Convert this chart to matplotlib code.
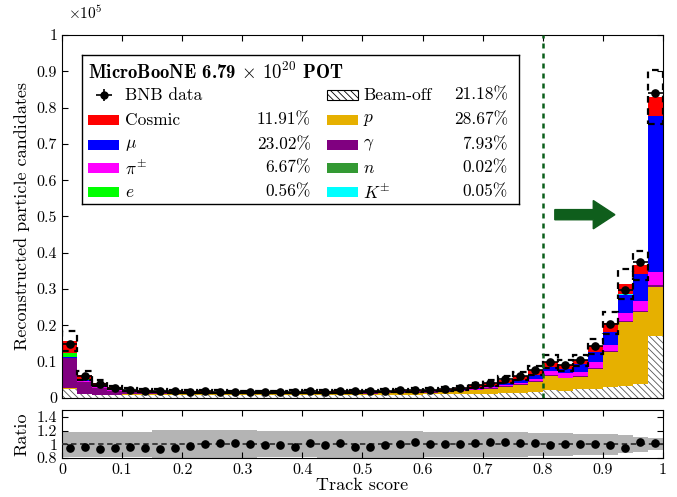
import numpy as np
import matplotlib
matplotlib.use('Agg')
import matplotlib.pyplot as plt
from matplotlib.patches import Rectangle, FancyArrow
from matplotlib.ticker import FuncFormatter, MultipleLocator

plt.rcParams['font.family'] = ['cmr10', 'DejaVu Serif']
plt.rcParams['mathtext.fontset'] = 'cm'
plt.rcParams['axes.formatter.use_mathtext'] = True
plt.rcParams['axes.unicode_minus'] = False
plt.rcParams['hatch.linewidth'] = 0.6

# 40 bins of track score
edges = np.linspace(0, 1, 41)
centers = 0.5 * (edges[:-1] + edges[1:])
bw = 0.025

# contributions, in units of 100 candidates
beam_off = [24, 10, 8, 8, 8.5, 8.5, 8.5, 8.5, 8.5, 8.5,
            8.5, 8.5, 8.5, 8.5, 8.5, 8.6, 8.6, 8.7, 8.8, 8.9,
            9, 9.2, 9.4, 9.6, 9.8, 10, 10.5, 11, 12, 13,
            14.5, 16, 22, 20, 25, 25, 29, 33, 38, 171]
proton = [3, 2, 1.5, 1.5, 1.5, 1.5, 1.5, 1.5, 1.5, 1.5,
          1.5, 1.5, 1.5, 1.5, 1.7, 2, 2, 2.2, 2.4, 2.8,
          3.1, 3.4, 4, 4.6, 5.3, 6, 7.5, 10, 13, 17,
          21, 28, 39, 34, 34, 56, 99, 177, 199, 136]
gamma = [82, 33, 19, 10, 6, 4.5, 4, 3.5, 3, 3,
         2.5, 2.5, 2.5, 2.5, 2.3, 2.2, 2.2, 2.2, 2.1, 2.1,
         2, 2, 2, 1.9, 1.9, 1.9, 2, 2, 2, 2,
         2, 2, 2, 2, 2, 2, 2, 3, 3, 3]
pion = [2, 2, 2, 2, 2, 2, 2, 2, 2, 2,
        2, 1.8, 1.8, 1.8, 1.8, 1.8, 1.8, 1.8, 1.8, 1.8,
        1.8, 1.8, 1.8, 1.9, 1.9, 2, 2.2, 2.8, 3.3, 4,
        5, 6.5, 12, 12, 11, 17, 16, 22, 27, 36]
muon = [2, 2, 1.5, 1.5, 1, 1, 1, 1, 1, 1,
        1, 1, 1, 1, 1, 1.1, 1.1, 1.2, 1.2, 1.3,
        1.3, 1.4, 1.5, 1.6, 1.7, 1.9, 2.2, 3, 4, 5.5,
        7, 10, 11, 12, 21, 27, 37, 50, 74, 430]
electron = [11, 3, 1.5, 1, 0.5, 0.5, 0.5, 0.5, 0, 0,
            0, 0, 0, 0, 0, 0, 0, 0, 0, 0,
            0, 0, 0, 0, 0, 0, 0, 0, 0, 0,
            0, 0, 0, 0, 0, 0, 0, 0, 0, 0]
neutron = [0] * 36 + [0, 0.1, 0.1, 0]
kaon = [0] * 36 + [0.1, 0.2, 0.2, 0.2]
cosmic = [33, 10, 7.5, 5, 3.5, 3, 2.5, 2, 2, 2,
          1.7, 1.7, 1.7, 1.7, 1.7, 1.9, 1.9, 1.9, 1.9, 1.9,
          2, 2, 2.2, 2.3, 2.6, 3.1, 4, 6.2, 6.5, 8.5,
          10.5, 13.5, 14.5, 10.5, 11, 15, 24, 28, 24, 53]

data = [148.5, 59.5, 38.1, 27.3, 22.0, 19.95, 18.6, 17.9, 17.55, 18.1,
        17.5, 17.2, 17.1, 16.7, 16.7, 17.0, 17.95, 17.7, 18.5, 18.05,
        18.5, 19.7, 21.0, 22.6, 23.4, 25.0, 28.5, 35.9, 42.0, 52.0,
        60.9, 77.1, 99.0, 91.0, 105.0, 142.0, 204.9, 297.4, 376.0, 841.4]

# relative MC uncertainty per bin
rel_err = [0.18, 0.18, 0.18, 0.18, 0.18, 0.18, 0.205, 0.205, 0.205, 0.205,
           0.205, 0.205, 0.205, 0.19, 0.19, 0.19, 0.19, 0.2, 0.2, 0.2,
           0.2, 0.2, 0.2, 0.2, 0.185, 0.185, 0.185, 0.185, 0.185, 0.185,
           0.185, 0.165, 0.165, 0.165, 0.15, 0.15, 0.15, 0.13, 0.11, 0.09]

scale = 100.0
stack = [
    ('Beam-off', beam_off, 'white'),
    ('$p$', proton, '#e6b000'),
    (r'$\gamma$', gamma, '#800080'),
    (r'$\pi^{\pm}$', pion, '#ff00ff'),
    (r'$\mu$', muon, '#0000ff'),
    ('$e$', electron, '#00ff00'),
    ('$n$', neutron, '#339933'),
    (r'$K^{\pm}$', kaon, '#00ffff'),
    ('Cosmic', cosmic, '#ff0000'),
]

fig = plt.figure(figsize=(6.77, 4.97), dpi=100)
ax = fig.add_axes([0.0916, 0.1992, 0.8877, 0.7304])
axr = fig.add_axes([0.0916, 0.0785, 0.8877, 0.0966], sharex=ax)

bottom = np.zeros(40)
for name, vals, col in stack:
    v = np.array(vals) * scale
    if name == 'Beam-off':
        ax.bar(centers, v, width=bw, bottom=bottom, facecolor='white',
               edgecolor='#555555', hatch='\\\\\\\\\\', linewidth=0, zorder=2)
    else:
        ax.bar(centers, v, width=bw, bottom=bottom, color=col, linewidth=0, zorder=2)
    bottom = bottom + v
mc = bottom
err = np.array(rel_err)
d = np.array(data) * scale

# uncertainty boxes
ax.bar(centers, 2 * mc * err, width=bw, bottom=mc * (1 - err), fill=False,
       edgecolor='black', linestyle=(0, (3, 2.5)), linewidth=1.6, zorder=3)
ax.errorbar(centers, d, xerr=bw / 2, yerr=np.sqrt(d), fmt='o', color='black',
            markersize=5.2, elinewidth=1.2, capsize=0, zorder=5)

ax.axvline(0.8, color='#0b5e1a', linestyle=(0, (2, 2)), linewidth=1.8, zorder=4)
ax.add_patch(FancyArrow(0.82, 0.505, 0.1, 0, width=0.028, head_width=0.078,
                        head_length=0.036, length_includes_head=True,
                        color='#0f5e1c', transform=ax.transAxes, zorder=4))

ax.set_xlim(0, 1)
ax.set_ylim(0, 1e5)
ax.yaxis.set_major_locator(MultipleLocator(1e4))
ax.yaxis.set_major_formatter(FuncFormatter(lambda v, p: '%g' % (v / 1e5)))
ax.xaxis.set_major_locator(MultipleLocator(0.1))
ax.tick_params(direction='in', top=True, right=True, labelsize=11.5, length=4)
plt.setp(ax.get_xticklabels(), visible=False)
ax.set_ylabel('Reconstructed particle candidates', fontsize=13, labelpad=5)
ax.text(0.01, 1.045, r'$\times 10^5$', transform=ax.transAxes, fontsize=11)

# ratio panel
axr.bar(centers, 2 * err, width=bw, bottom=1 - err, color='#b4b4b4', linewidth=0)
ratio = d / mc
axr.errorbar(centers, ratio, yerr=np.sqrt(d) / mc, fmt='o', color='black',
             markersize=5.2, elinewidth=1, capsize=0, zorder=5)
axr.axhline(1, color='#333333', linestyle=(0, (3, 2)), linewidth=1.3, zorder=4)
axr.set_ylim(0.8, 1.5)
axr.set_yticks([0.8, 1, 1.2, 1.4])
axr.yaxis.set_major_formatter(FuncFormatter(lambda v, p: '%g' % v))
axr.xaxis.set_major_formatter(FuncFormatter(lambda v, p: '%g' % v))
axr.tick_params(direction='in', top=True, right=True, labelsize=11.5, length=4)
axr.set_ylabel('Ratio', fontsize=13, labelpad=5)
axr.set_xlabel('Track score', fontsize=13, labelpad=1)
fig.align_ylabels([ax, axr])

# legend box
leg_ax = fig.add_axes([0.1211, 0.5895, 0.6455, 0.2998])
leg_ax.set_xlim(0, 437)
leg_ax.set_ylim(149, 0)
leg_ax.set_xticks([])
leg_ax.set_yticks([])
leg_ax.set_facecolor('white')
for s in leg_ax.spines.values():
    s.set_linewidth(1.0)
leg_ax.text(6, 17, r'MicroBooNE 6.79 $\mathbf{\times}$ $\mathbf{10^{20}}$ POT',
            fontfamily='cmb10', fontsize=13.5, va='center')

rows = [40, 65, 90, 113, 137]
fs = 12.5
left_items = [('Cosmic', '11.91%', '#ff0000'), (r'$\mu$', '23.02%', '#0000ff'),
              (r'$\pi^{\pm}$', '6.67%', '#ff00ff'), ('$e$', '0.56%', '#00ff00')]
right_items = [('Beam-off', '21.18%', None), ('$p$', '28.67%', '#e6b000'),
               (r'$\gamma$', '7.93%', '#800080'), ('$n$', '0.02%', '#339933'),
               (r'$K^{\pm}$', '0.05%', '#00ffff')]

leg_ax.errorbar([22], [rows[0]], xerr=[8], yerr=[6], fmt='o', color='black',
                markersize=5, elinewidth=1.2, capsize=0)
leg_ax.text(43, rows[0], 'BNB data', fontsize=fs, va='center')
for (lab, pct, col), y in zip(left_items, rows[1:]):
    leg_ax.add_patch(Rectangle((6, y - 5), 31, 10, facecolor=col, linewidth=0))
    leg_ax.text(43, y, lab, fontsize=fs, va='center')
    leg_ax.text(229, y, pct, fontsize=fs, va='center', ha='right')
for (lab, pct, col), y in zip(right_items, rows):
    if col is None:
        leg_ax.add_patch(Rectangle((245, y - 5), 31, 10, facecolor='white',
                                   edgecolor='black', hatch='\\\\\\\\\\', linewidth=0.8))
    else:
        leg_ax.add_patch(Rectangle((245, y - 5), 31, 10, facecolor=col, linewidth=0))
    leg_ax.text(281, y, lab, fontsize=fs, va='center')
    leg_ax.text(426, y, pct, fontsize=fs, va='center', ha='right')

fig.savefig('out.png', dpi=100)
